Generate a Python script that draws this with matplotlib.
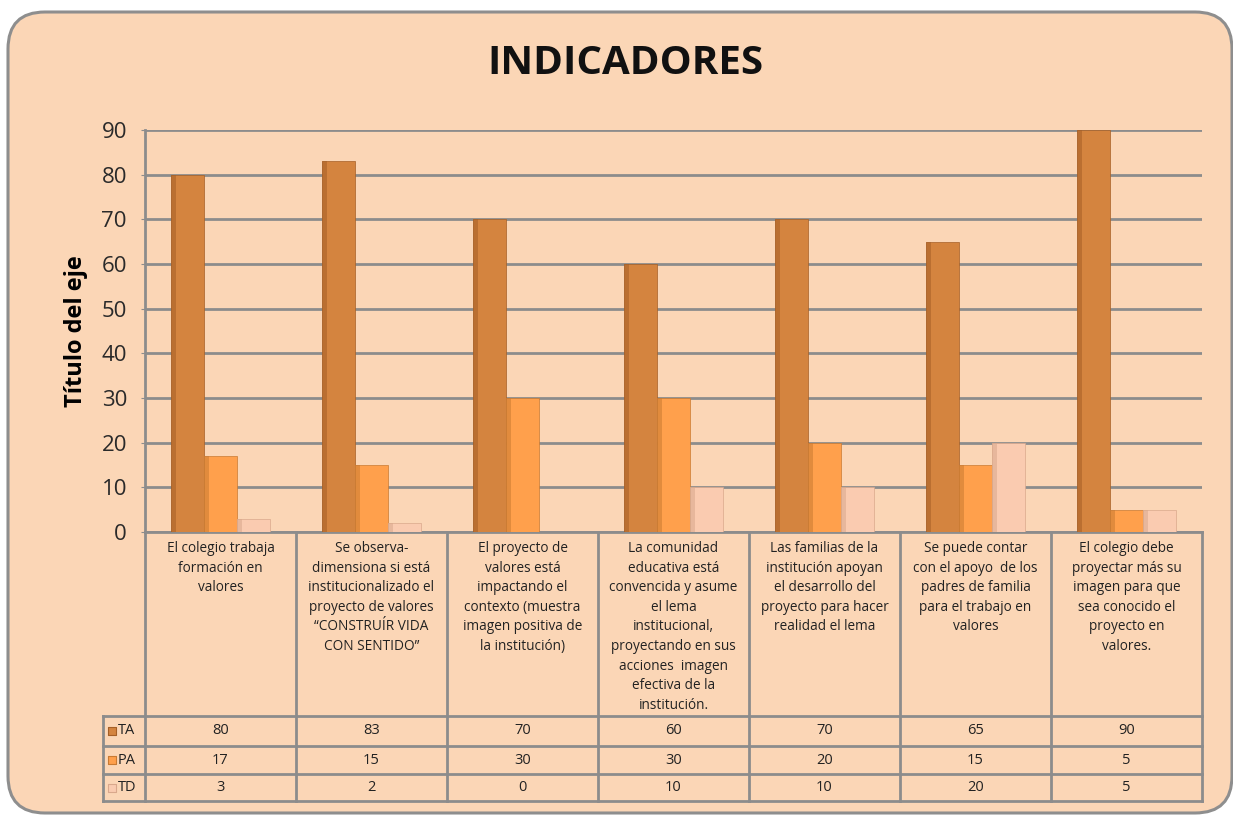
import matplotlib

matplotlib.use("Agg")
import matplotlib.pyplot as plt
from matplotlib.patches import FancyBboxPatch
import matplotlib.transforms as mtransforms

# data
CATEGORIES = [
    "El colegio trabaja\nformación en\nvalores",
    "Se observa-\ndimensiona si está\ninstitucionalizado el\nproyecto de valores\n\u201cCONSTRUÍR VIDA\nCON SENTIDO\u201d",
    "El proyecto de\nvalores está\nimpactando el\ncontexto (muestra\nimagen positiva de\nla institución)",
    "La comunidad\neducativa está\nconvencida y asume\nel lema\ninstitucional,\nproyectando en sus\nacciones  imagen\nefectiva de la\ninstitución.",
    "Las familias de la\ninstitución apoyan\nel desarrollo del\nproyecto para hacer\nrealidad el lema",
    "Se puede contar\ncon el apoyo  de los\npadres de familia\npara el trabajo en\nvalores",
    "El colegio debe\nproyectar más su\nimagen para que\nsea conocido el\nproyecto en\nvalores.",
]
SERIES = ["TA", "PA", "TD"]
TA = [80, 83, 70, 60, 70, 65, 90]
PA = [17, 15, 30, 30, 20, 15, 5]
TD = [3, 2, 0, 10, 10, 20, 5]
YTICKS = [0, 10, 20, 30, 40, 50, 60, 70, 80, 90]

COLORS = ["#D4843F", "#FFA04C", "#FACBB0"]
SHADES = ["#A55F26", "#C97A32", "#D9A88C"]
BG = "#FBD6B6"
GRID = "#8C8C8C"

W, H = 1233, 815
fig = plt.figure(figsize=(W / 100, H / 100), dpi=100)
fig.patch.set_facecolor("white")

# outer rounded frame
frame = FancyBboxPatch(
    (8 / W, 2 / H), (W - 9) / W, (H - 14) / H,
    boxstyle="round,pad=0,rounding_size=0.03",
    transform=fig.transFigure, facecolor=BG, edgecolor="#8E8E8E", lw=2.2,
    mutation_aspect=W / H, zorder=-10,
)
fig.patches.append(frame)

L, R, B, T = 145, 1202, 532, 130
ax = fig.add_axes([L / W, (H - B) / H, (R - L) / W, (B - T) / H])
ax.set_facecolor("none")
n = len(CATEGORIES)
ax.set_xlim(-0.5, n - 0.5)
ax.set_ylim(0, 90)
ax.set_yticks(YTICKS)
ax.yaxis.grid(True, color=GRID, lw=2, zorder=0)
ax.set_axisbelow(True)
ax.set_xticks([])
for s in ["top", "right", "bottom"]:
    ax.spines[s].set_visible(False)
ax.spines["left"].set_color(GRID)
ax.spines["left"].set_linewidth(2)
ax.tick_params(axis="y", length=3, color=GRID, labelsize=16, labelcolor="#2a2a2a", pad=10)
for lbl in ax.get_yticklabels():
    lbl.set_fontfamily("Open Sans")

bw = 0.22
offsets = [-bw, 0, bw]
for vals, off, col, sh in zip([TA, PA, TD], offsets, COLORS, SHADES):
    xs = [i + off for i in range(n)]
    ax.bar(xs, vals, width=bw, color=col, edgecolor=sh, lw=0.5, zorder=3)
    # darker strip on the left side for a 3D look
    ax.bar([x - bw * 0.42 for x in xs], vals, width=bw * 0.16, color=sh, alpha=0.55, lw=0, zorder=4)

ax.set_ylabel("Título del eje", fontsize=17, fontweight="bold", family="Open Sans", labelpad=10)

fig.text(625 / W, 1 - 63 / H, "INDICADORES", ha="center", va="center",
         fontsize=29, fontweight="bold", family="Open Sans", color="#111111")

# data table below the axis
tr = mtransforms.blended_transform_factory(ax.transData, fig.transFigure)
def fy(py):
    return 1 - py / H

x_head = -0.5 - 42 / 151
rows_y = [532, 716, 746, 774, 801]
line_kw = dict(color=GRID, lw=2, transform=tr, clip_on=False)
# horizontal lines
ax.plot([-0.5, n - 0.5], [fy(532), fy(532)], **line_kw)
for py in rows_y[1:]:
    ax.plot([x_head, n - 0.5], [fy(py), fy(py)], **line_kw)
# vertical lines
for i in range(n + 1):
    ax.plot([i - 0.5, i - 0.5], [fy(532), fy(801)], **line_kw)
ax.plot([x_head, x_head], [fy(716), fy(801)], **line_kw)

for i, cat in enumerate(CATEGORIES):
    ax.text(i, fy(541), cat, ha="center", va="top", fontsize=9.8, family="Open Sans",
            color="#222222", transform=tr, linespacing=1.42)

for r, (name, vals, col, sh) in enumerate(zip(SERIES, [TA, PA, TD], COLORS, SHADES)):
    yc = fy((rows_y[r + 1] + rows_y[r + 2]) / 2)
    ax.scatter([x_head + 0.06], [yc], marker="s", s=32, color=col, edgecolors=sh,
               lw=0.8, transform=tr, clip_on=False, zorder=5)
    ax.text(x_head + 0.1, yc, name, ha="left", va="center", fontsize=10.5,
            family="Open Sans", color="#222222", transform=tr)
    for i, v in enumerate(vals):
        ax.text(i, yc, str(v), ha="center", va="center", fontsize=10.5,
                family="Open Sans", color="#222222", transform=tr)

fig.savefig("out.png", dpi=100, facecolor="white")
